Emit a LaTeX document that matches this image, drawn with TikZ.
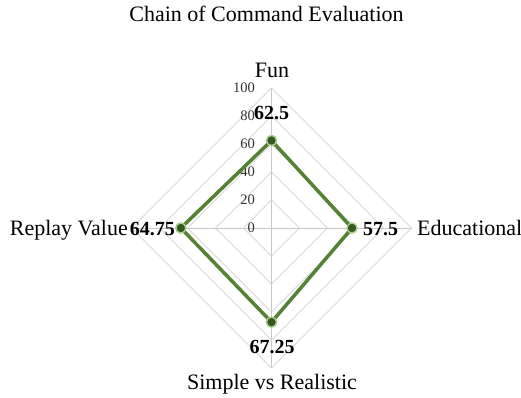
\documentclass[tikz,border=0pt]{standalone}
\usepackage{fontspec}
\setmainfont{Liberation Serif}
\usepackage{xcolor}
\usepackage{tikz}
\usetikzlibrary{calc}

\definecolor{gridgray}{HTML}{D9D9D9}
\definecolor{spokegray}{HTML}{C8C8C8}
\definecolor{serieslinegreen}{HTML}{548235}
\definecolor{markgreen}{HTML}{385723}
\definecolor{markrim}{HTML}{A9D18E}

\tikzset{
  lbl/.style={inner sep=0pt,font=\fontsize{22}{26}\selectfont},
  vallbl/.style={inner sep=0pt,font=\fontsize{20}{24}\selectfont\bfseries},
  ticklbl/.style={inner sep=0pt,anchor=east,text=black!80,font=\fontsize{14.5}{17}\selectfont},
  markdot/.style={circle,fill=markgreen,draw=markrim,line width=1.3pt,minimum size=10pt,inner sep=0pt}
}

\begin{document}
\begin{tikzpicture}[x=1pt,y=-1pt]
                    \useasboundingbox[fill=white] (0,0) rectangle (521,397);
                    \coordinate (ctr) at (271.5,228);

                    % grid rings
                    \foreach \r in {28,56,84,112,140}
                      \draw[gridgray,line width=1pt] ($(ctr)+(0,-\r)$) -- ($(ctr)+(\r,0)$) -- ($(ctr)+(0,\r)$) -- ($(ctr)+(-\r,0)$) -- cycle;
                    \coordinate (topend) at ($(ctr)+(0,-140)$);
                    \coordinate (rightend) at ($(ctr)+(140,0)$);
                    \coordinate (bottomend) at ($(ctr)+(0,140)$);
                    \coordinate (leftend) at ($(ctr)+(-140,0)$);
                    \draw[spokegray,line width=1pt] (topend) -- (bottomend);
                    \draw[spokegray,line width=1pt] (leftend) -- (rightend);

                    \foreach \v [count=\i from 0] in {0,20,40,60,80,100}
                      \node[ticklbl] (tick\v) at ($(ctr)+(-16.5,-28*\i)$) {\v};

                    % data points
                    \node[markdot] (funpt) at ($(ctr)+(0,-87.5)$) {};
                    \node[markdot] (edupt) at ($(ctr)+(80.5,0)$) {};
                    \node[markdot] (simppt) at ($(ctr)+(0,94.15)$) {};
                    \node[markdot] (replaypt) at ($(ctr)+(-90.65,0)$) {};
                    \draw[serieslinegreen,line width=3.5pt,line join=round] (funpt.center) -- (edupt.center) -- (simppt.center) -- (replaypt.center) -- cycle;
                    \foreach \p in {funpt,edupt,simppt,replaypt}
                      \node[markdot] at (\p) {};

                    \node[vallbl,anchor=base] (funval) at (271.5,119) {62.5};
                    \node[vallbl,anchor=base west] (eduval) at (363,235) {57.5};
                    \node[vallbl,anchor=base] (simpval) at (272,353) {67.25};
                    \node[vallbl,anchor=base east] (replayval) at (175,235) {64.75};

                    % axis names and title
                    \node[lbl,anchor=base] (funlbl) at (272,77) {Fun};
                    \node[lbl,anchor=base west] (edulbl) at (417,235) {Educational};
                    \node[lbl,anchor=base] (simplbl) at (272,389) {Simple vs Realistic};
                    \node[lbl,anchor=base east] (replaylbl) at (128,235) {Replay Value};
                    \node[lbl,anchor=base] (title) at (266.5,21) {Chain of Command Evaluation};
\end{tikzpicture}
\end{document}
